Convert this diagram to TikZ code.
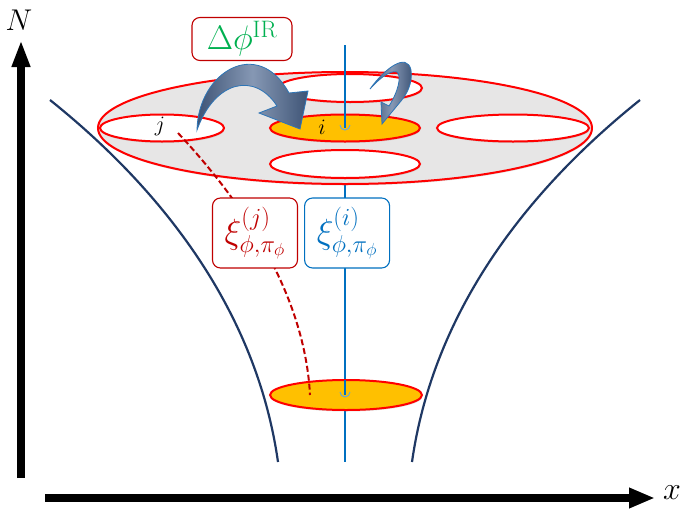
\RequirePackage{fix-cm}
\documentclass[tikz,border=0pt]{standalone}
\usepackage{xcolor}
\usepackage{amsmath}
\usepackage{tikz}
\usetikzlibrary{positioning,arrows.meta,shapes.geometric,shadows}

\definecolor{cellred}{HTML}{FF0000}
\definecolor{boxred}{HTML}{C00000}
\definecolor{cellyellow}{HTML}{FFC000}
\definecolor{cellgray}{HTML}{E7E6E6}
\definecolor{funnelblue}{HTML}{1F3864}
\definecolor{axisblue}{HTML}{0070C0}
\definecolor{irgreen}{HTML}{00B050}
\definecolor{arrowdark}{HTML}{3E5476}
\definecolor{arrowlight}{HTML}{8698B4}
\definecolor{arrowedge}{HTML}{2E75B6}

\begin{document}
\begin{tikzpicture}[
x=1pt,y=-1pt,
>=Latex,
cell/.style={
ellipse,
draw=cellred,
line width=2pt,
fill=white,
inner sep=0pt,
drop shadow={opacity=0.25,shadow xshift=0.5pt,shadow yshift=-1.5pt}
},
hotcell/.style={
cell,
fill=cellyellow
},
tagbox/.style={
draw,
rounded corners=8pt,
line width=1.1pt,
fill=white,
inner sep=1pt,
align=center
},
zline/.style={
axisblue,
line width=1.5pt
},
flux/.style={
draw=arrowedge,
line width=0.8pt,
left color=arrowdark,
right color=arrowdark,
middle color=arrowlight
}
]

\useasboundingbox (0,0) rectangle (683,509);

%%%%%%%%%%%%%%%%%%%%%%%%%%%%%%%%%%%%
% Axes
%%%%%%%%%%%%%%%%%%%%%%%%%%%%%%%%%%%%

\coordinate (ybase) at (21,478);
\coordinate (ytip) at (21,40);
\coordinate (xbase) at (45,498);
\coordinate (xtip) at (655,498);

\draw[line width=8pt,-{Triangle[length=27pt,width=17pt]}] (ybase)--(ytip);
\draw[line width=8pt,-{Triangle[length=26pt,width=19pt]}] (xbase)--(xtip);

\node[font=\fontsize{30}{36}\selectfont] (nlab) at (19,20) {$N$};
\node[font=\fontsize{32}{38}\selectfont] (xlab) at (672,493) {$x$};

%%%%%%%%%%%%%%%%%%%%%%%%%%%%%%%%%%%%
% Funnel
%%%%%%%%%%%%%%%%%%%%%%%%%%%%%%%%%%%%

\coordinate (fl1) at (50,100);
\coordinate (fl2) at (278,462);
\coordinate (fr1) at (640,100);
\coordinate (fr2) at (412,462);

\draw[funnelblue,line width=2.2pt] (fl1) .. controls (150,180) and (255,300) .. (fl2);
\draw[funnelblue,line width=2.2pt] (fr1) .. controls (540,180) and (435,300) .. (fr2);

%%%%%%%%%%%%%%%%%%%%%%%%%%%%%%%%%%%%
% Layer of cells
%%%%%%%%%%%%%%%%%%%%%%%%%%%%%%%%%%%%

\coordinate (ztop) at (345,45);
\coordinate (zbot) at (345,462);

\draw[zline] (345,184)--(zbot);

\node[cell,fill=cellgray,minimum width=494pt,minimum height=112pt] (layer) at (345,128) {};

\node[cell,minimum width=124pt,minimum height=27pt] (cellj) at (162,128) {};
\node[cell,minimum width=144pt,minimum height=28pt] (cellt) at (350,88) {};
\node[hotcell,minimum width=150pt,minimum height=27pt] (celli) at (345,128) {};
\node[cell,minimum width=152pt,minimum height=27pt] (cellr) at (513,128) {};
\node[cell,minimum width=150pt,minimum height=28pt] (cellb) at (345,164) {};

\draw[zline] (ztop)--(celli.center);
\draw[axisblue!60,line width=1pt] (celli.center) ++(-5,-3) arc[start angle=180,end angle=0,x radius=5,y radius=5];

\node[font=\fontsize{22}{26}\selectfont] (jlab) at (160,126) {$j$};
\node[font=\fontsize{22}{26}\selectfont] (ilab) at (322,127) {$i$};

%%%%%%%%%%%%%%%%%%%%%%%%%%%%%%%%%%%%
% Initial cell
%%%%%%%%%%%%%%%%%%%%%%%%%%%%%%%%%%%%

\node[hotcell,minimum width=152pt,minimum height=30pt] (cellz) at (346,395) {};

\draw[zline] (345,380)--(345,395);
\draw[axisblue!60,line width=1pt] (345,395) ++(-5,-3) arc[start angle=180,end angle=0,x radius=5,y radius=5];

%%%%%%%%%%%%%%%%%%%%%%%%%%%%%%%%%%%%
% Trajectory and kicks
%%%%%%%%%%%%%%%%%%%%%%%%%%%%%%%%%%%%

\coordinate (jstart) at (178,133);
\coordinate (jend) at (310,395);

\draw[boxred,line width=2pt,dash pattern=on 6pt off 3pt] (jstart) .. controls (250,210) and (305,300) .. (jend);

\path[flux] (197,130) .. controls (198,72) and (258,36) .. (289,93) -- (308,91) -- (300,129) -- (259,113) -- (277,106) .. controls (255,72) and (215,80) .. (197,130) -- cycle;

\path[flux] (370,89) .. controls (385,68) and (407,52) .. (411,70) .. controls (413,84) and (406,95) .. (401,101) -- (382,124) -- (381,102) -- (389,106) .. controls (398,92) and (402,76) .. (397,72) .. controls (390,70) and (380,78) .. (370,89) -- cycle;

%%%%%%%%%%%%%%%%%%%%%%%%%%%%%%%%%%%%
% Labels
%%%%%%%%%%%%%%%%%%%%%%%%%%%%%%%%%%%%

\node[tagbox,draw=boxred,text=irgreen,minimum width=100pt,minimum height=43pt,font=\fontsize{34}{40}\selectfont] (dphi) at (242,39)
{$\Delta\phi^{\mathrm{IR}}$};

\node[tagbox,draw=boxred,text=boxred,minimum width=85pt,minimum height=70pt,font=\fontsize{35}{42}\selectfont] (xij) at (255,233)
{$\xi^{(j)}_{\phi,\pi_\phi}$};

\node[tagbox,draw=axisblue,text=axisblue,minimum width=85pt,minimum height=70pt,font=\fontsize{35}{42}\selectfont,right=6pt of xij] (xii)
{$\xi^{(i)}_{\phi,\pi_\phi}$};

\end{tikzpicture}
\end{document}
